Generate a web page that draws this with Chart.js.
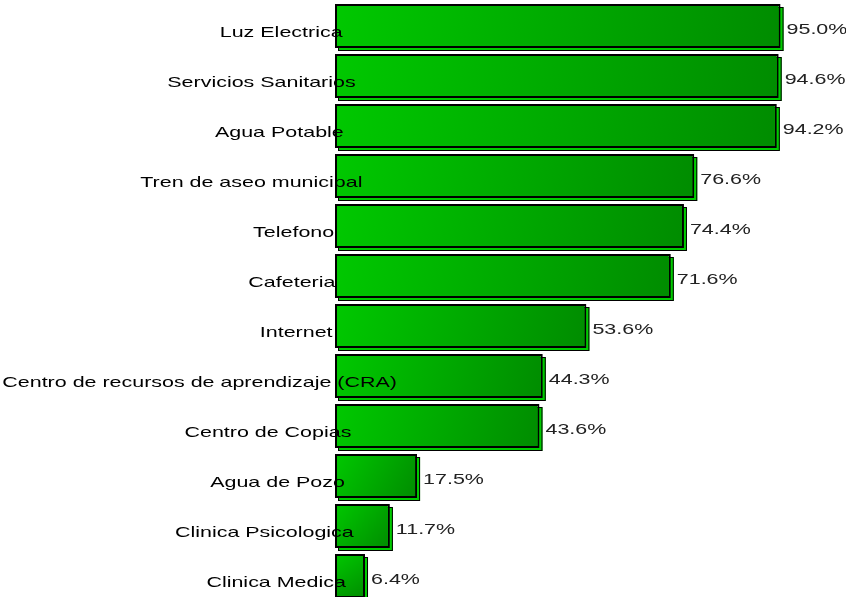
<!DOCTYPE html>
<html>
<head>
<meta charset="utf-8">
<script src="https://cdn.jsdelivr.net/npm/chart.js@4"></script>
<style>
    html, body { margin: 0; padding: 0; background: #fff; overflow: hidden; }
    #wrap { width: 846px; height: 603px; position: relative; }
</style>
</head>
<body>
<div id="wrap"><canvas id="servChart"></canvas></div>
<script>
var categories = ['Luz Electrica', 'Servicios Sanitarios', 'Agua Potable', 'Tren de aseo municipal',
    'Telefono', 'Cafeteria', 'Internet', 'Centro de recursos de aprendizaje (CRA)',
    'Centro de Copias', 'Agua de Pozo', 'Clinica Psicologica', 'Clinica Medica'];
var porcentajes = [95.0, 94.6, 94.2, 76.6, 74.4, 71.6, 53.6, 44.3, 43.6, 17.5, 11.7, 6.4];
var etiquetas = ['95.0%', '94.6%', '94.2%', '76.6%', '74.4%', '71.6%', '53.6%', '44.3%', '43.6%', '17.5%', '11.7%', '6.4%'];

var FONT = '15px "Liberation Sans", Arial, sans-serif';
var STRETCH = 1.43;

function barBox(chart, i) {
    var bar = chart.getDatasetMeta(0).data[i];
    return { x0: bar.base, x1: bar.x, top: bar.y - bar.height / 2, bottom: bar.y + bar.height / 2, y: bar.y };
}

function stretchedText(ctx, text, x, y) {
    ctx.save();
    ctx.translate(x, y);
    ctx.scale(STRETCH, 1);
    ctx.fillText(text, 0, 0);
    ctx.restore();
}

// sombra 3D detras de cada barra
var sombraPlugin = {
    id: 'sombra',
    beforeDatasetsDraw: function(chart) {
        var ctx = chart.ctx;
        ctx.save();
        for (var i = 0; i < porcentajes.length; i++) {
            var b = barBox(chart, i);
            ctx.fillStyle = '#00cc00';
            ctx.fillRect(b.x0 + 3, b.top + 3, b.x1 - b.x0, b.bottom - b.top);
            ctx.strokeStyle = '#000';
            ctx.lineWidth = 1;
            ctx.strokeRect(b.x0 + 3.5, b.top + 3.5, b.x1 - b.x0 - 1, b.bottom - b.top - 1);
        }
        ctx.restore();
    }
};

// textos de categoria y valores
var textosPlugin = {
    id: 'textos',
    afterDatasetsDraw: function(chart) {
        var ctx = chart.ctx;
        ctx.save();
        ctx.font = FONT;
        ctx.textAlign = 'left';
        ctx.textBaseline = 'middle';
        for (var i = 0; i < categories.length; i++) {
            var b = barBox(chart, i);
            var w = ctx.measureText(categories[i]).width * STRETCH;
            ctx.fillStyle = '#000';
            stretchedText(ctx, categories[i], 318 - 0.8 * w, b.y + 6.5);
            ctx.fillStyle = '#222';
            stretchedText(ctx, etiquetas[i], b.x1 + 6, b.y + 4);
        }
        ctx.restore();
    }
};

var ctx = document.getElementById('servChart').getContext('2d');
var servChart = new Chart(ctx, {
    type: 'bar',
    data: {
        labels: categories,
        datasets: [{
            data: porcentajes,
            backgroundColor: function(c) {
                var chart = c.chart;
                if (!chart.chartArea || !chart.scales.x) return '#00b000';
                var x0 = chart.scales.x.getPixelForValue(0);
                var x1 = chart.scales.x.getPixelForValue(porcentajes[c.dataIndex]);
                var yc = chart.scales.y.getPixelForValue(c.dataIndex);
                var g = chart.ctx.createLinearGradient(x0, yc - 22, x1, yc + 22);
                g.addColorStop(0, '#00c800');
                g.addColorStop(1, '#008c00');
                return g;
            },
            borderColor: '#000',
            borderWidth: 2,
            borderSkipped: false,
            barPercentage: 0.88,
            categoryPercentage: 1
        }]
    },
    options: {
        indexAxis: 'y',
        responsive: true,
        maintainAspectRatio: false,
        animation: false,
        layout: {
            padding: { left: 335, right: 42, top: 1, bottom: 2 }
        },
        plugins: {
            legend: { display: false },
            tooltip: { enabled: false },
            title: { display: false }
        },
        scales: {
            x: {
                display: false,
                min: 0,
                max: 100
            },
            y: {
                display: false
            }
        }
    },
    plugins: [sombraPlugin, textosPlugin]
});
</script>
</body>
</html>
